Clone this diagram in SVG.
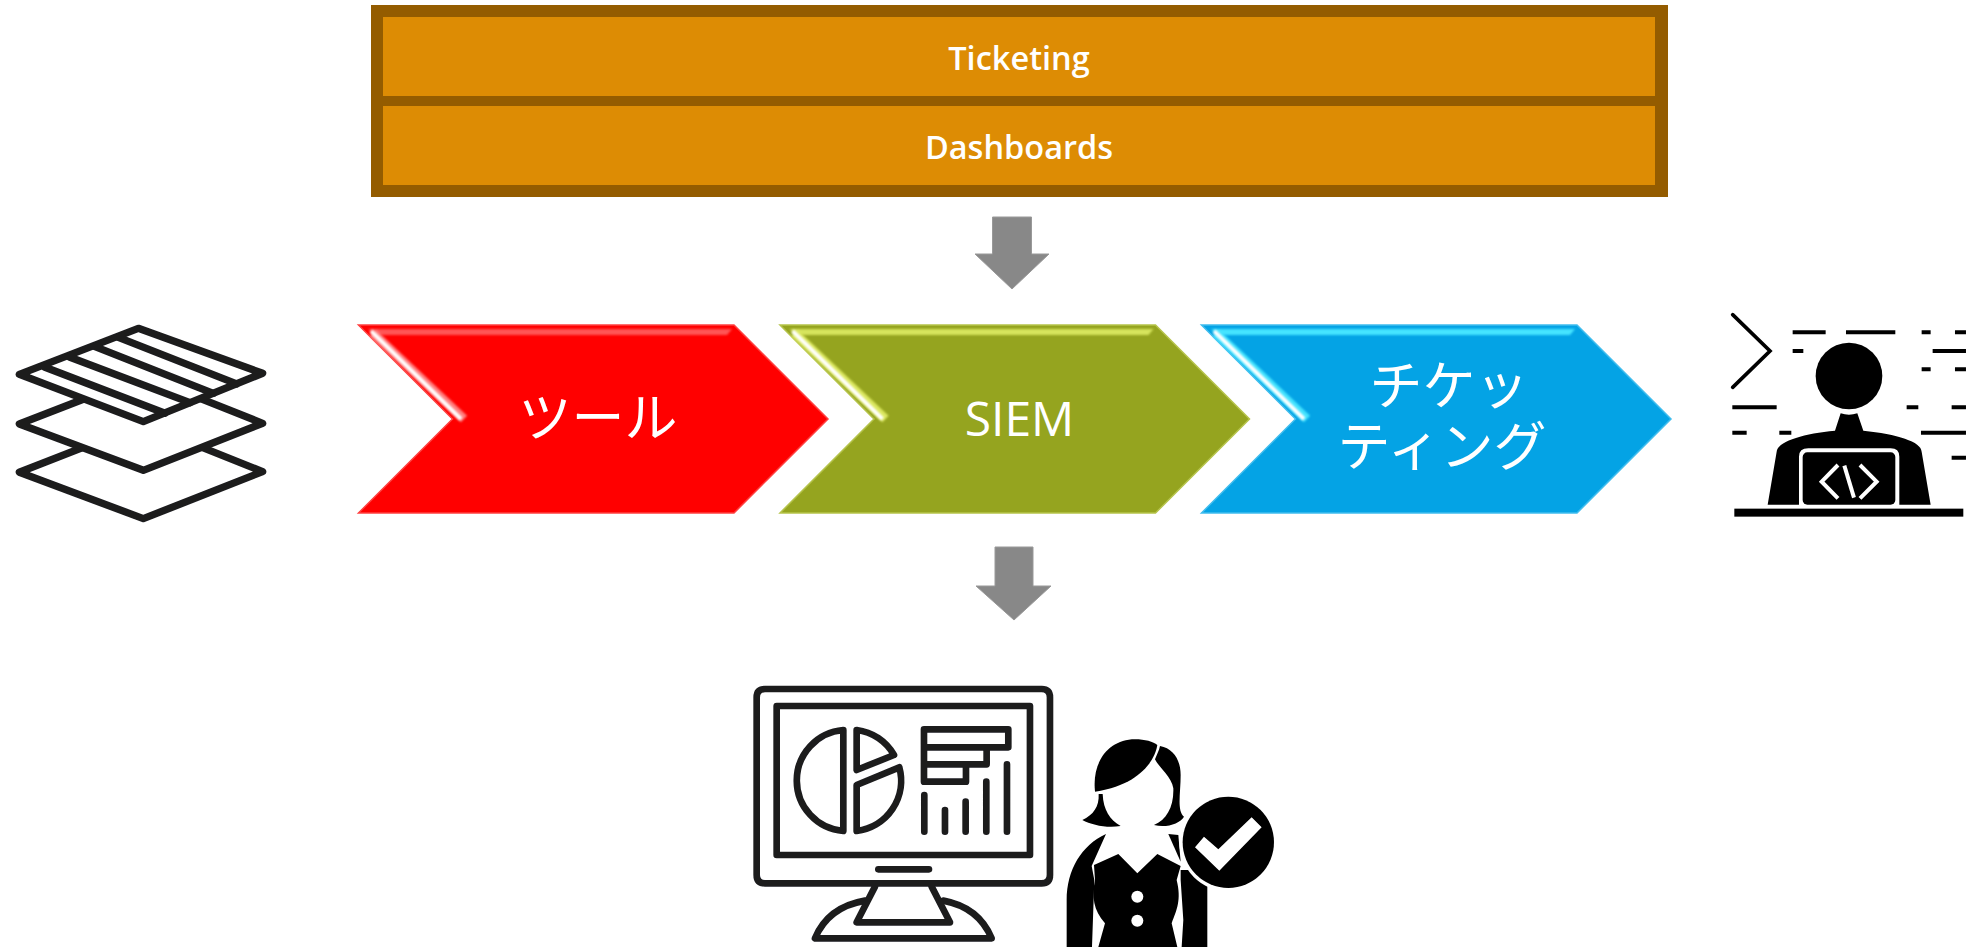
<svg xmlns="http://www.w3.org/2000/svg" width="1972" height="947" viewBox="0 0 1972 947">
<style>
.bar{fill:#DD8C04}
.lbl{font-family:"Open Sans","Noto Sans",sans-serif;font-weight:600;font-size:32.5px;fill:#fff;text-anchor:middle}
.ch{font-family:"Noto Sans CJK JP","Noto Sans",sans-serif;font-size:53px;fill:#fff;text-anchor:middle}
.en{font-family:"Open Sans","Noto Sans",sans-serif;font-size:48px;fill:#fff;text-anchor:middle}
.ln{fill:none;stroke:#1b1b1f;stroke-linejoin:round;stroke-linecap:round}
.lw{fill:#fff;stroke:#1b1b1f;stroke-linejoin:round;stroke-linecap:round}
.arrow{fill:#888;stroke:#999;stroke-width:1}
.dash{stroke:#000;stroke-width:12;fill:none}
.hl{stroke-width:4;fill:none}
.glow{stroke-width:9;fill:none}
</style>
<defs>
<filter id="soft" x="-20%" y="-20%" width="140%" height="140%"><feGaussianBlur stdDeviation="1"/></filter>
<filter id="icon" x="-5%" y="-5%" width="110%" height="110%"><feGaussianBlur stdDeviation="0.4"/></filter>
<polygon id="chev" points="358.5,325 734,325 828,419 734,513 358.5,513 452.5,419"/>
</defs>
<rect width="1972" height="947" fill="#fff"/>
<g id="box-frame"><rect x="371" y="5" width="1297" height="192" fill="#945C00"/></g>
<g id="ticketing"><rect class="bar" x="383" y="17" width="1272" height="79"/><text class="lbl" x="1019" y="70">Ticketing</text></g>
<g id="dashboards"><rect class="bar" x="383" y="106" width="1272" height="79"/><text class="lbl" x="1019" y="159">Dashboards</text></g>

<g id="connectors">
<polygon class="arrow" points="992.5,217 1031.5,217 1031.5,254 1049,254 1012,289 975,254 992.5,254"/>
<polygon class="arrow" points="995,547 1033,547 1033,586 1051,586 1014,620 976,586 995,586"/>
</g>

<g id="tools">
<use href="#chev" fill="#FF0000" stroke="#FF4040" stroke-width="1.5"/>
<polygon points="368,329 732,329 727,335 375,335" fill="#FF5555" filter="url(#soft)"/>
<line class="glow" x1="373" y1="333" x2="464" y2="419" stroke="#FF8080" filter="url(#soft)"/>
<line class="hl" x1="371" y1="331" x2="461" y2="419" stroke="#fff" filter="url(#soft)"/>
<text class="ch" x="598" y="437">ツール</text>
</g>
<g id="siem" transform="translate(421.5,0)">
<use href="#chev" fill="#95A41F" stroke="#B5C34A" stroke-width="1.5"/>
<polygon points="368,329 732,329 727,335 375,335" fill="#D6E45C" filter="url(#soft)"/>
<line class="glow" x1="373" y1="333" x2="464" y2="419" stroke="#DCE860" filter="url(#soft)"/>
<line class="hl" x1="371" y1="331" x2="461" y2="419" stroke="#fff" filter="url(#soft)"/>
<text class="en" x="598" y="436">SIEM</text>
</g>
<g id="ticketing-jp" transform="translate(843,0)">
<use href="#chev" fill="#04A3E5" stroke="#40BDEE" stroke-width="1.5"/>
<polygon points="368,329 732,329 727,335 375,335" fill="#45E4FF" filter="url(#soft)"/>
<line class="glow" x1="373" y1="333" x2="464" y2="419" stroke="#45E4FF" filter="url(#soft)"/>
<line class="hl" x1="371" y1="331" x2="461" y2="419" stroke="#fff" filter="url(#soft)"/>
<text class="ch" x="606" y="405">チケッ</text>
<text class="ch" x="599" y="466">ティング</text>
</g>

<g id="layers-icon" transform="scale(0.3333) translate(0,930)" filter="url(#icon)">
<polygon class="lw" stroke-width="22" points="430,626 788,485 430,342 58,487"/>
<polygon class="lw" stroke-width="22" points="430,481 788,340 430,198 58,342"/>
<polygon class="lw" stroke-width="22" points="415,55 788,190 430,335 58,193"/>
<g class="ln" stroke-width="22"><line x1="355" y1="82" x2="710" y2="222"/><line x1="285" y1="110" x2="640" y2="250"/><line x1="210" y1="142" x2="570" y2="278"/><line x1="135" y1="172" x2="495" y2="310"/></g>
</g>

<g id="developer-icon" transform="translate(1700,300) scale(0.3333)" filter="url(#icon)">
<polyline points="98,44 210,153 98,262" fill="none" stroke="#000" stroke-width="11" stroke-linecap="round"/>
<path class="dash" d="M278 97H377M438 97H586M665 97H692M765 97H798M278 153H310M698 153H798M665 208H692M765 208H798M97 322H230M620 322H655M755 322H798M97 398H140M238 398H274M663 398H798M755 473H798"/>
<circle cx="447" cy="228" r="100"/>
<path d="M422 340Q447 348 472 340L490 392C590 402 665 425 665 455L692 614H598V470Q598 445 572 445H325Q297 445 297 470V614H203L230 455C232 425 310 400 405 392Z"/>
<rect x="308" y="457" width="278" height="157" rx="14"/>
<g fill="none" stroke="#fff" stroke-width="12"><polyline points="414,495 365,545 414,595"/><line x1="433" y1="497" x2="462" y2="593"/><polyline points="480,495 530,545 480,595"/></g>
<rect x="103" y="626" width="687" height="24"/>
</g>

<g id="dashboard-icon" transform="translate(740,670) scale(0.3333)" filter="url(#icon)">
<g class="ln" stroke-width="20">
<path d="M75 57H905Q930 57 930 82V615Q930 640 905 640H75Q50 640 50 615V82Q50 57 75 57Z"/>
<rect x="110" y="108" width="760" height="447"/>
<path d="M310 180A152 152 0 0 0 310 483Z"/>
<path d="M350 180A150 150 0 0 1 462 255L350 300Z"/>
<path d="M350 345L478 292A152 152 0 0 1 350 483Z"/>
<path d="M552 178H805V232H552ZM552 232V335H678V283M552 283H740V232"/>
<path d="M553 375V485M615 420V485M677 395V485M739 335V485M801 283V485M415 598H567"/>
<path d="M405 650L350 757H630L575 650"/>
<path d="M375 692C300 705 250 745 225 805H755C730 745 680 705 610 692"/>
</g>
</g>

<g id="analyst-icon" transform="translate(1050,720) scale(0.3333)" filter="url(#icon)">
<path d="M135 215C125 120 180 58 255 58C285 58 310 65 322 75C315 120 270 195 135 215Z"/>
<path d="M330 78C370 85 392 120 392 165C392 220 380 270 402 290C390 310 350 325 312 315C350 300 372 260 370 205C365 170 325 140 315 118C320 105 328 90 330 78Z"/>
<path d="M146 222L158 222C160 270 180 300 212 318C170 325 125 315 97 300C130 285 148 260 146 222Z"/>
<path d="M168 342C95 375 50 450 50 540V681H126L133 480L125 438Z"/>
<path d="M132 435L205 402L262 460L322 402L392 438L380 480C395 540 380 570 365 610L382 681H145L165 610C130 570 125 530 135 480Z"/>
<path d="M355 342L385 345L392 425Z"/>
<path d="M392 480L400 600L395 681H472V450H392Z"/>
<circle cx="262" cy="530" r="18" fill="#fff"/><circle cx="262" cy="602" r="18" fill="#fff"/>
<circle cx="535" cy="367" r="147" fill="#fff"/>
<circle cx="535" cy="367" r="137"/>
<polygon points="435,382 462,350 505,388 605,292 635,322 508,452" fill="#fff"/>
</g>
</svg>
